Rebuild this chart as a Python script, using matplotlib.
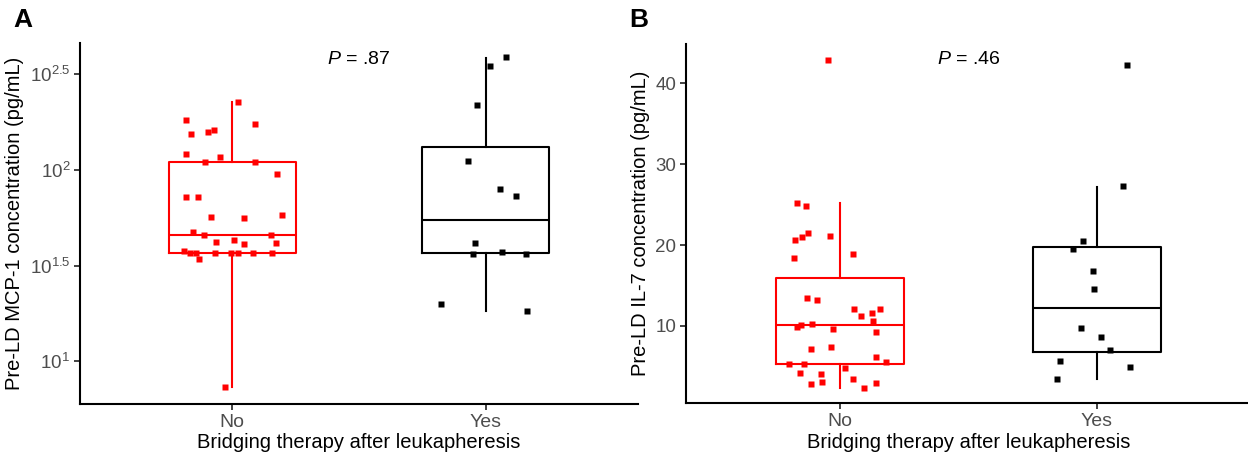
import matplotlib
matplotlib.use('Agg')
import matplotlib.pyplot as plt
import numpy as np
from matplotlib.ticker import NullLocator

plt.rcParams['font.family'] = ['Liberation Sans', 'DejaVu Sans']
plt.rcParams['mathtext.fontset'] = 'custom'
plt.rcParams['mathtext.rm'] = 'Liberation Sans'
plt.rcParams['mathtext.it'] = 'Liberation Sans:italic'

groups = ['No', 'Yes']
xlab = 'Bridging therapy after leukapheresis'

# panel A: MCP-1 (pg/mL), jitter offsets
mcp_no_dx = [0.022, -0.181, 0.091, -0.161, -0.095, -0.073, -0.181, -0.047, -0.107, 0.090,
             0.177, -0.181, -0.134, -0.082, 0.047, 0.195, -0.155, -0.113, 0.152, -0.063,
             0.009, 0.047, 0.172, -0.188, -0.168, -0.142, -0.130, -0.066, -0.004, 0.022,
             0.082, 0.157, -0.027]
mcp_no = [227.5, 182.4, 173.9, 153.6, 157.9, 161.3, 121.2, 117.3, 110.1, 110.1,
          95.6, 72.5, 72.0, 56.8, 56.3, 58.2, 47.6, 45.7, 45.7, 41.9,
          42.9, 40.9, 41.6, 37.9, 36.7, 36.7, 34.3, 36.7, 36.7, 36.7,
          36.7, 36.7, 7.32]
mcp_yes_dx = [0.078, 0.018, -0.035, -0.070, 0.056, 0.118, -0.043, -0.052, 0.065, 0.157,
              -0.175, 0.163]
mcp_yes = [388, 349.5, 219.4, 111.1, 79.9, 72.9, 41.6, 36.5, 37.4, 36.5, 19.9, 18.3]
mcp_box = [dict(whislo=7.32, q1=36.7, med=45.7, q3=110.5, whishi=227.5),
           dict(whislo=18.4, q1=36.7, med=54.8, q3=131.9, whishi=383.5)]
mcp_p = 'P = .87'

# panel B: IL-7 (pg/mL)
il7_no_dx = [-0.046, -0.168, -0.131, -0.126, -0.148, -0.174, -0.040, -0.178, 0.052, -0.127,
             -0.091, 0.053, 0.081, 0.125, 0.156, 0.130, -0.168, -0.151, -0.109, -0.027,
             0.140, -0.112, -0.036, 0.139, -0.200, -0.139, 0.179, 0.019, -0.158, -0.075,
             -0.113, -0.071, 0.049, 0.092, 0.141]
il7_no = [42.88, 25.24, 24.83, 21.53, 21.0, 20.63, 21.16, 18.37, 18.86, 13.50,
          13.21, 12.10, 11.27, 11.57, 12.10, 10.66, 9.84, 10.12, 10.21, 9.59,
          9.22, 7.16, 7.44, 6.13, 5.34, 5.34, 5.52, 4.81, 4.19, 4.11,
          2.87, 3.05, 3.45, 2.37, 2.95]
il7_yes_dx = [0.118, 0.100, -0.054, -0.092, -0.014, -0.010, -0.062, 0.017, 0.052, -0.142,
              0.130, -0.154]
il7_yes = [42.21, 27.31, 20.47, 19.55, 16.76, 14.61, 9.79, 8.64, 7.03, 5.71, 4.93, 3.41]
il7_box = [dict(whislo=2.37, q1=5.34, med=10.12, q3=15.93, whishi=25.17),
           dict(whislo=3.41, q1=6.75, med=12.26, q3=19.77, whishi=27.22)]
il7_p = 'P = .46'

colors = ['#FF0000', '#000000']
grey = '#4D4D4D'


def draw_panel(ax, boxes, pts, ptext, ptext_y, ylabel):
    for i, (st, c) in enumerate(zip(boxes, colors)):
        lp = dict(color=c, linewidth=1.5)
        ax.bxp([st], positions=[i + 1], widths=0.5, showcaps=False, showfliers=False,
               boxprops=lp, medianprops=lp, whiskerprops=lp, manage_ticks=False)
    for i, ((dx, vals), c) in enumerate(zip(pts, colors)):
        ax.plot(i + 1 + np.array(dx), vals, 's', color=c, ms=4.2, mec='none', zorder=5)
    ax.set_xlim(0.4, 2.6)
    ax.set_xticks([1, 2])
    ax.set_xticklabels(groups)
    ax.text(1.5, ptext_y, r'$\mathit{P}$' + ptext[1:], ha='center', va='center', fontsize=14)
    for s in ['top', 'right']:
        ax.spines[s].set_visible(False)
    for s in ['left', 'bottom']:
        ax.spines[s].set_linewidth(1.5)
    ax.tick_params(length=4, width=1.3, colors='#333333', labelcolor=grey)
    ax.tick_params(axis='x', labelsize=14, pad=3)
    ax.tick_params(axis='y', labelsize=13.5, pad=3)
    ax.set_xlabel(xlab, fontsize=14.5, labelpad=2)
    ax.set_ylabel(ylabel, fontsize=14.5, labelpad=4)


fig = plt.figure(figsize=(12.48, 4.63), dpi=100)
axA = fig.add_axes([80 / 1248, 59 / 463, 558 / 1248, 361 / 463])
axB = fig.add_axes([686 / 1248, 60 / 463, 565 / 1248, 359 / 463])

axA.set_yscale('log')
draw_panel(axA, mcp_box, [(mcp_no_dx, mcp_no), (mcp_yes_dx, mcp_yes)], mcp_p, 380,
           'Pre-LD MCP-1 concentration (pg/mL)')
axA.set_ylim(5.99, 460.8)
axA.set_yticks([10, 10 ** 1.5, 100, 10 ** 2.5])
axA.set_yticklabels([r'$10^{1}$', r'$10^{1.5}$', r'$10^{2}$', r'$10^{2.5}$'])
axA.yaxis.set_minor_locator(NullLocator())

draw_panel(axB, il7_box, [(il7_no_dx, il7_no), (il7_yes_dx, il7_yes)], il7_p, 43.0,
           'Pre-LD IL-7 concentration (pg/mL)')
axB.set_ylim(0.48, 44.86)
axB.set_yticks([10, 20, 30, 40])

fig.text(13 / 1248, 1 - 8 / 463, 'A', fontsize=19, fontweight='bold', va='top', ha='left')
fig.text(629 / 1248, 1 - 8 / 463, 'B', fontsize=19, fontweight='bold', va='top', ha='left')

fig.savefig('out.png', dpi=100)
